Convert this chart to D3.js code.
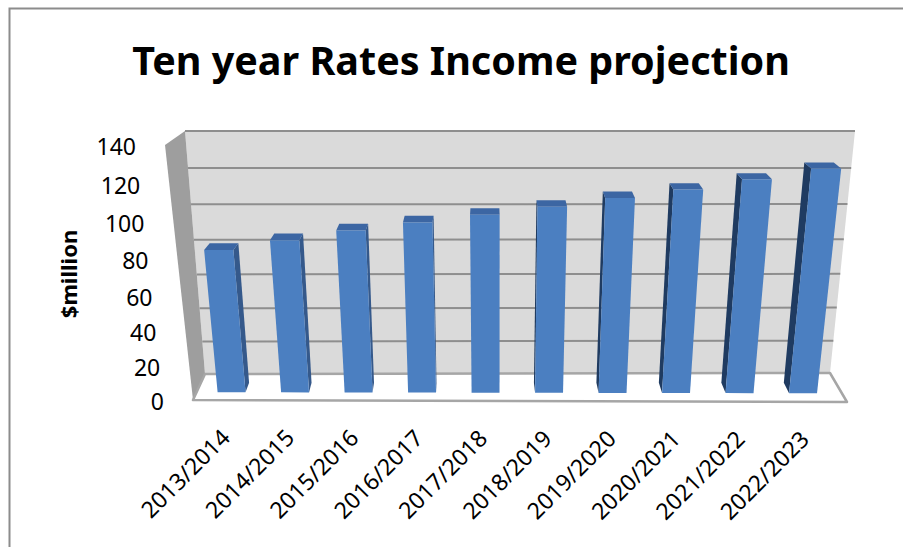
<!DOCTYPE html>
<meta charset="utf-8">
<html>
<style>
  body { margin: 0; background: #fff; }
  .chart text { font-family: "Noto Sans", "Open Sans", sans-serif; fill: #000; }
</style>
<script src="https://cdn.jsdelivr.net/npm/d3@7"></script>
<body>
  <svg class="chart"></svg>
</body>
<script>
  var width = 903;
  var height = 547;

  var years = ["2013/2014", "2014/2015", "2015/2016", "2016/2017", "2017/2018",
               "2018/2019", "2019/2020", "2020/2021", "2021/2022", "2022/2023"];
  var income = [81.8, 87.2, 92.6, 97.0, 101.2, 105.6, 110.3, 114.8, 120.3, 126.0];
  var yTicks = [0, 20, 40, 60, 80, 100, 120, 140];
  var title = "Ten year Rates Income projection";
  var yTitle = "$million";

  // screen corners of the front (depth 0) and back (depth 1) planes
  var front = { tl: [165, 145], tr: [878, 146], bl: [193, 400], br: [847, 402] };
  var back  = { tl: [185, 131], tr: [855, 131], bl: [205, 374], br: [830, 373] };

  var x = d3.scaleBand().domain(years)
    .range([0.005, 0.989])
    .paddingInner(0.56)
    .paddingOuter(0.28);

  var y = d3.scaleLinear().domain([0, 140]).range([0, 1]);

  function lerp(a, b, t) {
    return [a[0] + (b[0] - a[0]) * t, a[1] + (b[1] - a[1]) * t];
  }
  // slight vertical perspective
  function warp(t) { return t / (1 + 0.08 * (1 - t)); }

  function proj(u, t, d) {
    var tl = lerp(front.tl, back.tl, d), tr = lerp(front.tr, back.tr, d);
    var bl = lerp(front.bl, back.bl, d), br = lerp(front.br, back.br, d);
    var bot = lerp(bl, br, u), top = lerp(tl, tr, u);
    return lerp(bot, top, warp(t));
  }

  function poly(pts) { return "M" + pts.map(function(p) { return p[0] + "," + p[1]; }).join("L") + "Z"; }

  var chart = d3.select(".chart")
    .attr("width", width)
    .attr("height", height);

  chart.append("rect").attr("width", width).attr("height", height).attr("fill", "#fff");

  // outer chart border
  chart.append("path")
    .attr("d", "M9.5," + height + "V8.5H" + width)
    .attr("fill", "none")
    .attr("stroke", "#8c8c8c")
    .attr("stroke-width", 2);

  // walls and floor
  chart.append("path")
    .attr("d", poly([proj(0, 0, 1), proj(1, 0, 1), proj(1, 1, 1), proj(0, 1, 1)]))
    .attr("fill", "#dadada");

  chart.append("path")
    .attr("d", poly([proj(0, 0, 0), proj(0, 1, 0), proj(0, 1, 1), proj(0, 0, 1)]))
    .attr("fill", "#9e9e9e");

  chart.selectAll(".grid")
    .data(yTicks.slice(1))
    .enter().append("line")
    .attr("class", "grid")
    .attr("x1", function(v) { return proj(0, y(v), 1)[0]; })
    .attr("y1", function(v) { return proj(0, y(v), 1)[1]; })
    .attr("x2", function(v) { return proj(1, y(v), 1)[0]; })
    .attr("y2", function(v) { return proj(1, y(v), 1)[1]; })
    .attr("stroke", "#8e8e8e")
    .attr("stroke-width", 2);

  chart.append("path")
    .attr("d", poly([proj(0, 0, 0), proj(1, 0, 0), proj(1, 0, 1), proj(0, 0, 1)]))
    .attr("fill", "#fff")
    .attr("stroke", "#a6a6a6")
    .attr("stroke-width", 2.5)
    .attr("stroke-linejoin", "round");

  // bars
  var d0 = 0.3, d1 = 0.66;
  var bar = chart.selectAll(".bar")
    .data(years)
    .enter().append("g")
    .attr("class", "bar");

  bar.each(function(cat, i) {
    var g = d3.select(this);
    var u0 = x(cat), u1 = u0 + x.bandwidth(), t = y(income[i]);
    var right = [proj(u1, 0, d0), proj(u1, 0, d1), proj(u1, t, d1), proj(u1, t, d0)];
    var left = [proj(u0, 0, d0), proj(u0, 0, d1), proj(u0, t, d1), proj(u0, t, d0)];
    if (right[2][0] > right[3][0]) {
      g.append("path").attr("d", poly(right)).attr("fill", "#35598b");
    }
    if (left[2][0] < left[3][0]) {
      g.append("path").attr("d", poly(left)).attr("fill", "#1f3b61");
    }
    g.append("path")
      .attr("d", poly([proj(u0, t, d0), proj(u1, t, d0), proj(u1, t, d1), proj(u0, t, d1)]))
      .attr("fill", "#3c66a3");
    g.append("path")
      .attr("d", poly([proj(u0, 0, d0), proj(u1, 0, d0), proj(u1, t, d0), proj(u0, t, d0)]))
      .attr("fill", "#4b7fc1");
  });

  // value axis labels
  chart.selectAll(".ytick")
    .data(yTicks)
    .enter().append("text")
    .attr("class", "ytick")
    .attr("x", function(v) { return proj(0, y(v), 0)[0] - 29; })
    .attr("y", function(v) { return proj(0, y(v), 0)[1] + 2; })
    .attr("dy", "0.35em")
    .attr("text-anchor", "end")
    .style("font-size", "23px")
    .text(function(v) { return v; });

  // category labels
  chart.selectAll(".xtick")
    .data(years)
    .enter().append("text")
    .attr("class", "xtick")
    .attr("transform", function(cat) {
      var p = proj(x(cat) + x.bandwidth() / 2, 0, 0);
      return "translate(" + (p[0] + 3) + "," + (p[1] + 39) + ") rotate(-45)";
    })
    .attr("text-anchor", "end")
    .style("font-size", "23px")
    .text(function(cat) { return cat; });

  chart.append("text")
    .attr("transform", "translate(77,274) rotate(-90)")
    .attr("text-anchor", "middle")
    .style("font-size", "22px")
    .style("font-weight", "bold")
    .text(yTitle);

  var t = chart.append("text")
    .attr("x", 461)
    .attr("y", 75)
    .attr("text-anchor", "middle")
    .style("font-size", "44px")
    .style("font-weight", "bold")
    .text(title);
  var w = t.node().getComputedTextLength();
  t.style("font-size", (44 * 658 / w) + "px");
</script>

</html>
